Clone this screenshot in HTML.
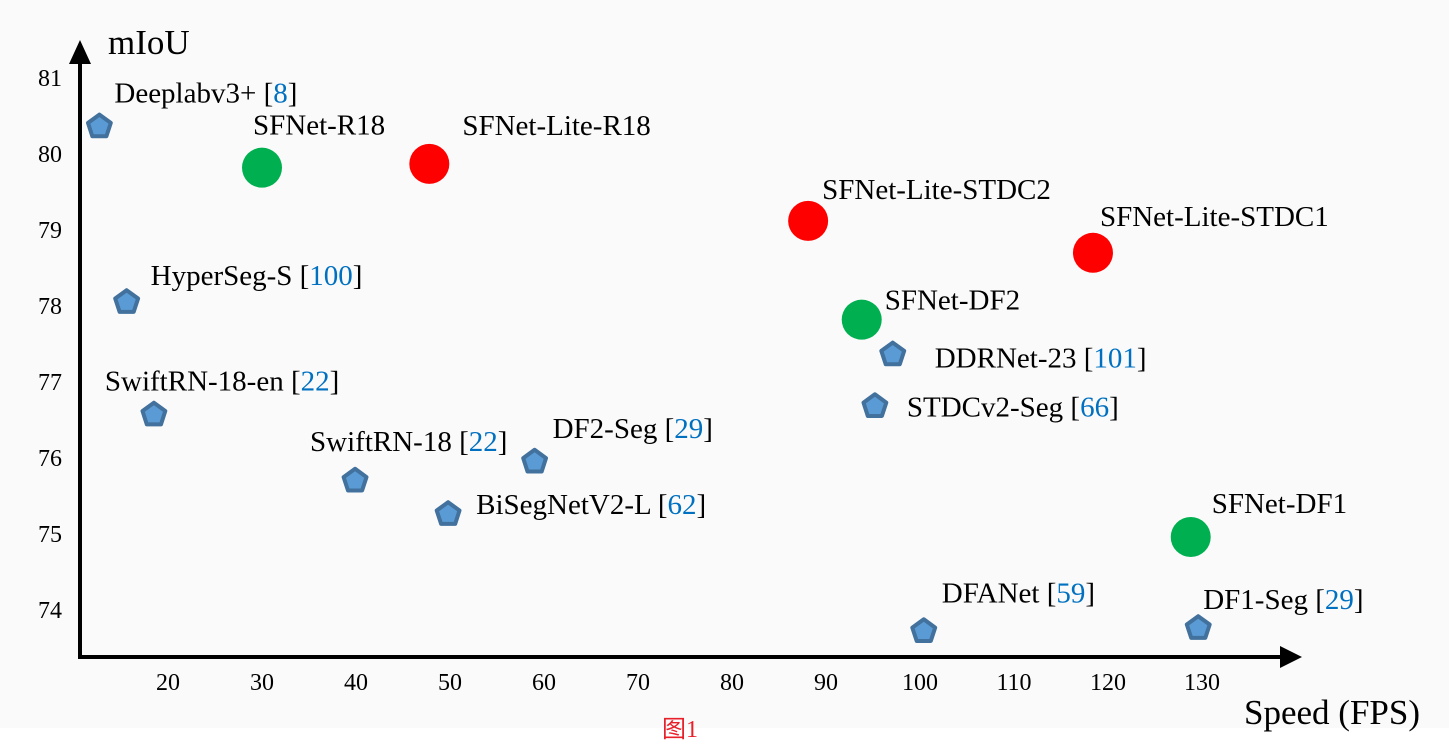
<!DOCTYPE html>
<html><head><meta charset="utf-8"><style>
html,body{margin:0;padding:0;background:#fff}
svg{display:block}
text{font-family:"Liberation Serif",serif}
</style></head><body>
<svg id="chart" width="1449" height="754" xmlns="http://www.w3.org/2000/svg">
<rect x="0" y="0" width="1449" height="728" fill="#fafafa"/>
<g id="axes">
<line x1="80" y1="658" x2="80" y2="60" stroke="#000" stroke-width="4"/>
<polygon points="80,40 69,64 91,64" fill="#000"/>
<line x1="78" y1="657" x2="1282" y2="657" stroke="#000" stroke-width="4"/>
<polygon points="1302,657 1280,646 1280,668" fill="#000"/>
<text x="108" y="54" font-size="35">mIoU</text>
<text x="1244" y="724" font-size="35">Speed (FPS)</text>
<text x="662" y="737" font-size="24" fill="#e8202a" font-family="'Liberation Sans','Noto Sans CJK SC',sans-serif">图1</text>
</g>
<g id="ticks"></g>
<g id="points"></g>
</svg>
<script>
const xTicks=[20,30,40,50,60,70,80,90,100,110,120,130];
const yTicks=[74,75,76,77,78,79,80,81];
const names=["Deeplabv3+","SFNet-R18","SFNet-Lite-R18","SFNet-Lite-STDC2","SFNet-Lite-STDC1","HyperSeg-S","SFNet-DF2","DDRNet-23","STDCv2-Seg","SwiftRN-18-en","DF2-Seg","SwiftRN-18","BiSegNetV2-L","SFNet-DF1","DFANet","DF1-Seg"];
const refs=["8","","","","","100","","101","66","22","29","22","62","","59","29"];
const fps=[12.7,30.0,47.8,88.1,118.4,15.6,93.8,97.1,95.2,18.5,59.0,39.9,49.8,128.8,100.4,129.6];
const miou=[80.36,79.82,79.87,79.12,78.70,78.05,77.82,77.36,76.68,76.57,75.95,75.70,75.26,74.96,73.72,73.76];
const kinds=["p","g","r","r","r","p","g","p","p","p","p","p","p","g","p","p"];
const lx=[15,-9,33,14,7,24,23,42,32,-49,18,-45,28,21,18,5];
const ly=[-34,-43,-39,-32,-37,-27,-20,3,0,-34,-34,-40,-10,-34,-39,-29];
const NS="http://www.w3.org/2000/svg";
const X=v=>168+(v-20)*9.4;
const Y=v=>78+(81-v)*76;
function mk(t,a,p){const e=document.createElementNS(NS,t);for(const k in a)e.setAttribute(k,a[k]);p.appendChild(e);return e;}
const tg=document.getElementById('ticks');
xTicks.forEach(v=>{const t=mk('text',{x:X(v),y:690,'font-size':24,'text-anchor':'middle'},tg);t.textContent=v;

});
yTicks.forEach(v=>{const t=mk('text',{x:62,y:Y(v)+8,'font-size':24,'text-anchor':'end'},tg);t.textContent=v;

});
const pg=document.getElementById('points');
names.forEach((n,i)=>{
 const cx=X(fps[i]),cy=Y(miou[i]);let m;
 if(kinds[i]==='p'){
  let pts=[];for(let k=0;k<5;k++){const a=-Math.PI/2+k*2*Math.PI/5;pts.push((cx+12*Math.cos(a)).toFixed(1)+','+(cy+12*Math.sin(a)).toFixed(1));}
  m=mk('polygon',{points:pts.join(' '),fill:'#5b9bd5',stroke:'#41719c','stroke-width':4,'stroke-linejoin':'round'},pg);
 } else {
  m=mk('circle',{cx:cx,cy:cy,r:20,fill:kinds[i]==='g'?'#00b050':'#ff0000'},pg);
 }
 
 
 const t=mk('text',{x:cx+lx[i],y:cy+ly[i]+10,'font-size':29},pg);
 t.appendChild(document.createTextNode(n+(refs[i]?' [':'')));
 if(refs[i]){const s=mk('tspan',{fill:'#0070c0'},t);s.textContent=refs[i];t.appendChild(document.createTextNode(']'));}
 
 
});
</script>
</body></html>
